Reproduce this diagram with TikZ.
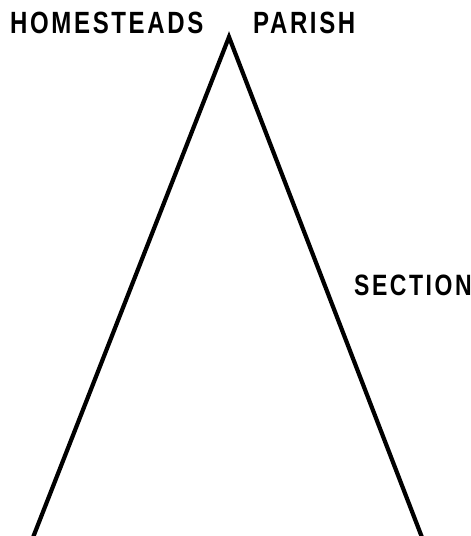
\documentclass[tikz,border=0pt]{standalone}
\usepackage{graphicx}
\usepackage{fontspec}
\setmainfont{Liberation Sans}[LetterSpace=11]
\newcommand{\tallword}[1]{\scalebox{1}[1.28]{#1}}
\begin{document}
\begin{tikzpicture}[x=1pt,y=-1pt,
  lbl/.style={font=\fontsize{24}{26}\selectfont\bfseries, inner sep=0pt, anchor=base west},
  side/.style={line width=4.2pt, line join=miter}]
\useasboundingbox (0,0) rectangle (471,536);
\coordinate (apex) at (229,37);
\coordinate (left) at (32,540);
\coordinate (right) at (423,540);
\draw[side] (left) -- (apex) -- (right);
\node[lbl] (homesteads) at (10,33) {\tallword{HOMESTEADS}};
\node[lbl] (parish) at (253,33) {\tallword{PARISH}};
\node[lbl, font=\fontsize{23}{25}\selectfont\bfseries] (section) at (354,295) {\tallword{SECTION}};
\end{tikzpicture}
\end{document}
